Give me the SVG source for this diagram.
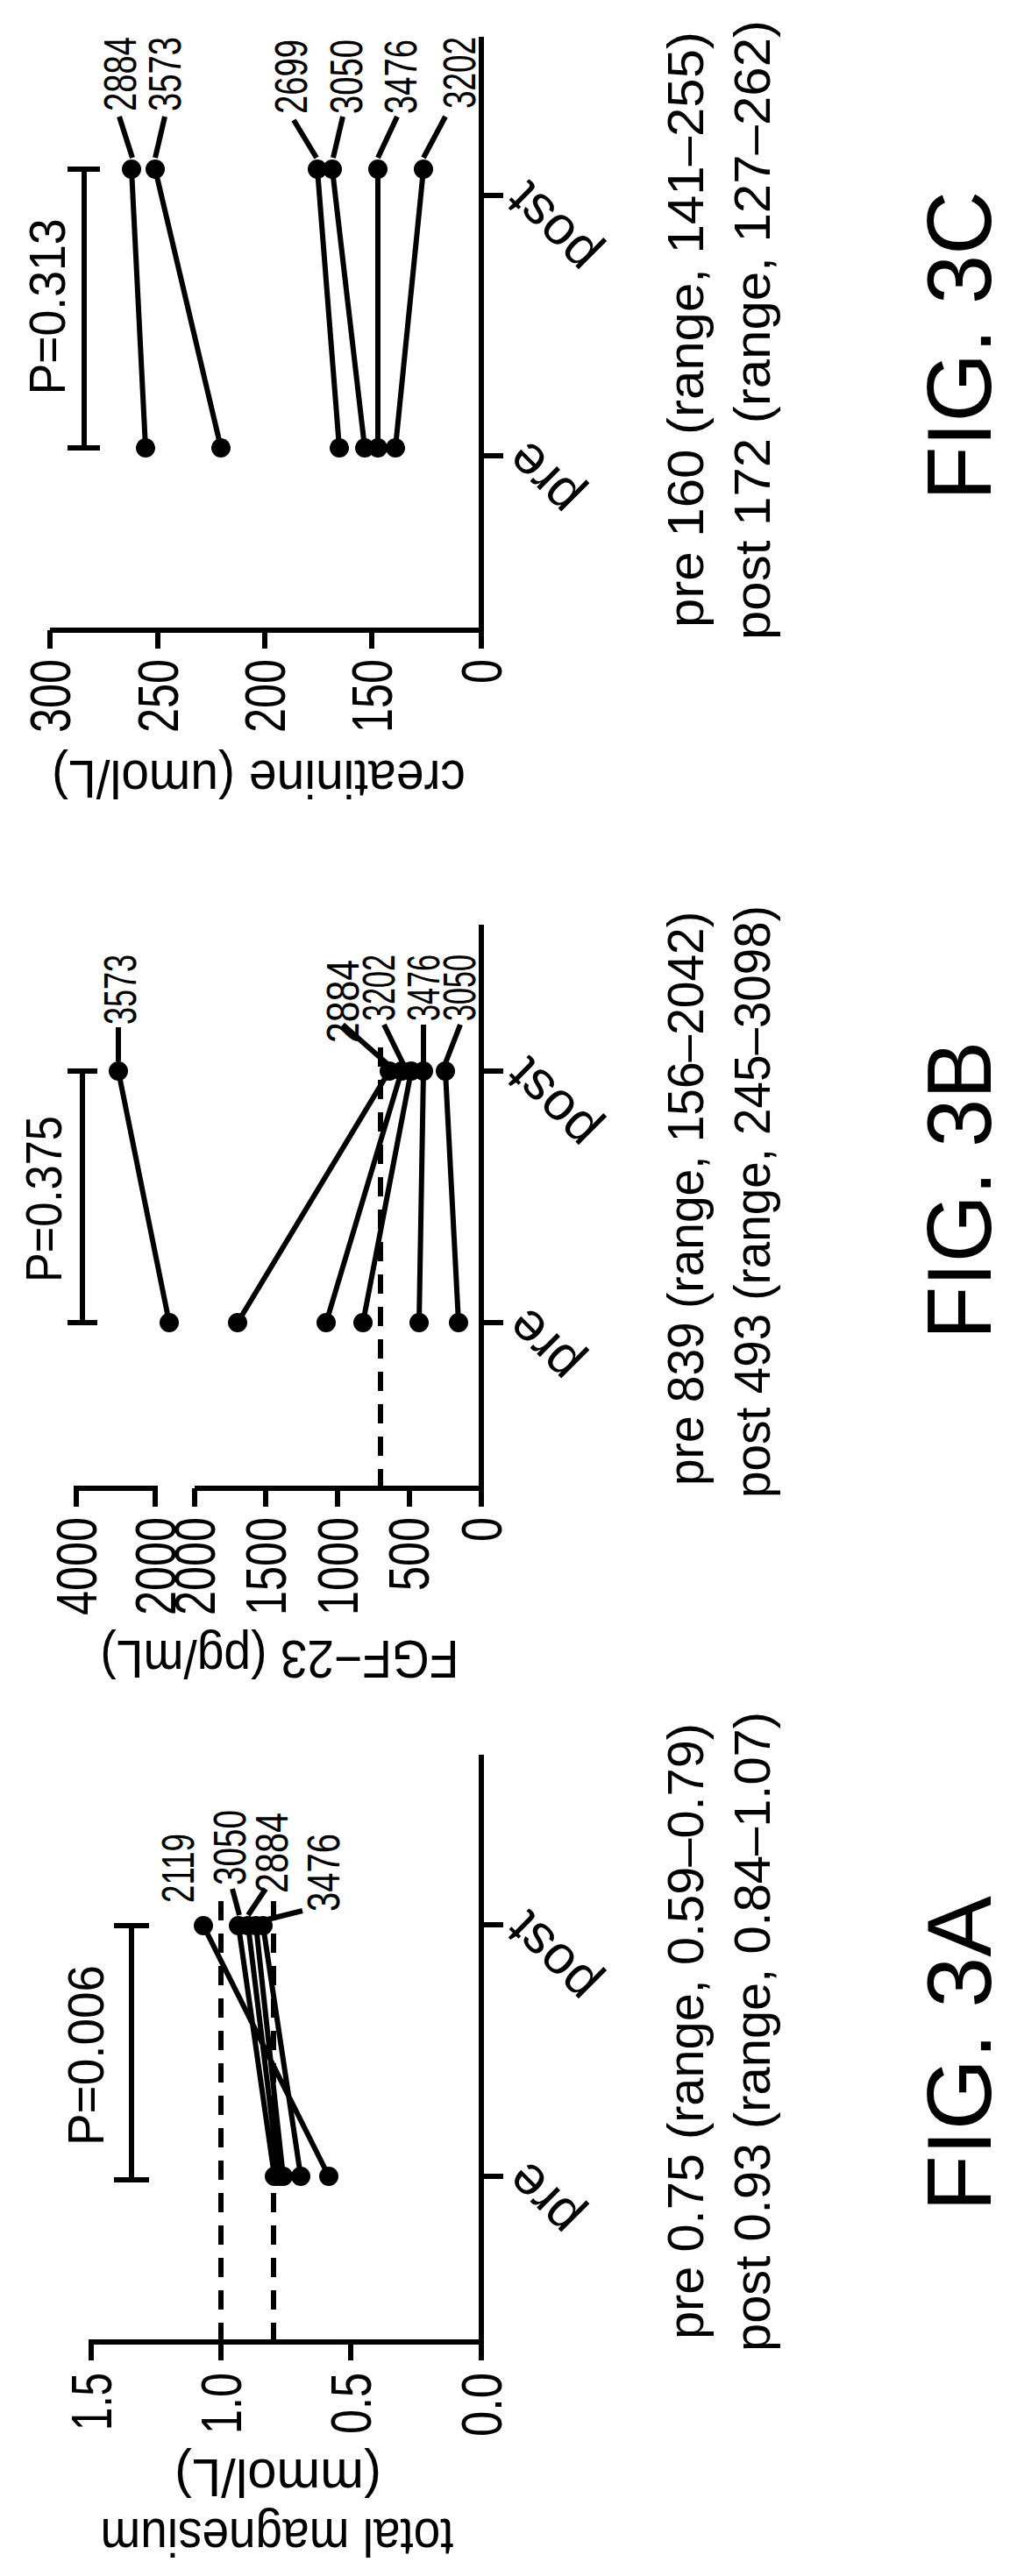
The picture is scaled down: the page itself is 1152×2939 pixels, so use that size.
<svg xmlns="http://www.w3.org/2000/svg" width="1152" height="2939" viewBox="0 0 1152 2939" xml:space="preserve">
<style>
.l{stroke:#000;stroke-width:6;fill:none;stroke-linecap:butt}
.d{stroke:#000;stroke-width:6;fill:none;stroke-dasharray:22 15}
text{font-family:"Liberation Sans",Arial,sans-serif;fill:#000}
.tk{font-size:64px;text-anchor:end}
.id{font-size:52px}
.pv{font-size:57px;text-anchor:middle}
.xl{font-size:62px;text-anchor:end}
.sm{font-size:58px}
.fig{font-size:104px}
.ti{font-size:62px;text-anchor:middle}
</style>
<rect width="1152" height="2939" fill="#fff"/>

<!-- FIG 3C -->
<g id="fig3c">
  <path class="l" d="M549,42V719H57M57,719v21M180,719v21M302,719v21M424,719v21M549,719v21M549,223h25M549,520h25"/>
  <text class="tk" textLength="84" lengthAdjust="spacingAndGlyphs" transform="translate(80,752) rotate(-90)">300</text>
  <text class="tk" textLength="84" lengthAdjust="spacingAndGlyphs" transform="translate(203,752) rotate(-90)">250</text>
  <text class="tk" textLength="84" lengthAdjust="spacingAndGlyphs" transform="translate(325,752) rotate(-90)">200</text>
  <text class="tk" textLength="84" lengthAdjust="spacingAndGlyphs" transform="translate(447,752) rotate(-90)">150</text>
  <text class="tk" textLength="28" lengthAdjust="spacingAndGlyphs" transform="translate(572,752) rotate(-90)">0</text>
  <text class="ti" textLength="472" lengthAdjust="spacingAndGlyphs" transform="translate(295,868) rotate(180)">creatinine  (umol/L)</text>
  <text class="xl" transform="translate(603,500) rotate(-135)">pre</text>
  <text class="xl" transform="translate(603,204) rotate(-135)">post</text>
  <path class="l" d="M96,193V511M77,193h37M77,511h37"/>
  <text class="pv" textLength="201" lengthAdjust="spacingAndGlyphs" transform="translate(74,350) rotate(-90)">P=0.313</text>
  <g class="l">
    <path d="M166,511L150,193M252,511L177,193M387,511L362,193M416,511L379,193M431,511L431,193M451,511L483,193"/>
    <path d="M151,180L136,133M177,180L188,133M361,180L335,137M380,180L391,133M431,180L453,133M483,180L508,133"/>
  </g>
  <g fill="#000">
    <circle cx="166" cy="511" r="11"/><circle cx="252" cy="511" r="11"/><circle cx="387" cy="511" r="11"/><circle cx="416" cy="511" r="11"/><circle cx="431" cy="511" r="11"/><circle cx="451" cy="511" r="11"/>
    <circle cx="150" cy="193" r="11"/><circle cx="177" cy="193" r="11"/><circle cx="362" cy="193" r="11"/><circle cx="379" cy="193" r="11"/><circle cx="431" cy="193" r="11"/><circle cx="483" cy="193" r="11"/>
  </g>
  <text class="id" textLength="85" lengthAdjust="spacingAndGlyphs" transform="translate(155,127) rotate(-90)">2884</text>
  <text class="id" textLength="85" lengthAdjust="spacingAndGlyphs" transform="translate(206,127) rotate(-90)">3573</text>
  <text class="id" textLength="85" lengthAdjust="spacingAndGlyphs" transform="translate(350,130) rotate(-90)">2699</text>
  <text class="id" textLength="85" lengthAdjust="spacingAndGlyphs" transform="translate(413,130) rotate(-90)">3050</text>
  <text class="id" textLength="85" lengthAdjust="spacingAndGlyphs" transform="translate(475,130) rotate(-90)">3476</text>
  <text class="id" textLength="82" lengthAdjust="spacingAndGlyphs" transform="translate(542,124) rotate(-90)">3202</text>
  <text class="sm" textLength="680" lengthAdjust="spacingAndGlyphs" transform="translate(802,716) rotate(-90)">pre  160  (range,  141–255)</text>
  <text class="sm" textLength="707" lengthAdjust="spacingAndGlyphs" transform="translate(878,730) rotate(-90)">post  172  (range,  127–262)</text>
  <text class="fig" textLength="353" lengthAdjust="spacingAndGlyphs" transform="translate(1130,571) rotate(-90)">FIG. 3C</text>
</g>

<!-- FIG 3B -->
<g id="fig3b">
  <path class="l" d="M549,1055V1698H222M222,1698v21M303,1698v21M385,1698v21M467,1698v21M549,1698v21M177,1719V1698H87v21M549,1222h25M549,1509h25"/>
  <text class="tk" textLength="112" lengthAdjust="spacingAndGlyphs" transform="translate(110,1731) rotate(-90)">4000</text>
  <text class="tk" textLength="112" lengthAdjust="spacingAndGlyphs" transform="translate(200,1731) rotate(-90)">2000</text>
  <text class="tk" textLength="112" lengthAdjust="spacingAndGlyphs" transform="translate(245,1731) rotate(-90)">2000</text>
  <text class="tk" textLength="112" lengthAdjust="spacingAndGlyphs" transform="translate(326,1731) rotate(-90)">1500</text>
  <text class="tk" textLength="112" lengthAdjust="spacingAndGlyphs" transform="translate(408,1731) rotate(-90)">1000</text>
  <text class="tk" textLength="84" lengthAdjust="spacingAndGlyphs" transform="translate(489,1731) rotate(-90)">500</text>
  <text class="tk" textLength="28" lengthAdjust="spacingAndGlyphs" transform="translate(572,1731) rotate(-90)">0</text>
  <text class="ti" textLength="409" lengthAdjust="spacingAndGlyphs" transform="translate(319,1872) rotate(180)">FGF−23  (pg/mL)</text>
  <path class="d" d="M434,1698V1181"/>
  <text class="xl" transform="translate(603,1489) rotate(-135)">pre</text>
  <text class="xl" transform="translate(603,1203) rotate(-135)">post</text>
  <path class="l" d="M94,1222V1509M77,1222h34M77,1509h34"/>
  <text class="pv" textLength="190" lengthAdjust="spacingAndGlyphs" transform="translate(70,1368) rotate(-90)">P=0.375</text>
  <g class="l">
    <path d="M193,1509L135,1222M271,1509L444,1222M372,1509L458,1222M414,1509L469,1222M478,1509L483,1222M523,1509L508,1222"/>
    <path d="M135,1211L135,1172M442,1214L391,1169M460,1214L438,1169M483,1214L483,1169M508,1213L525,1169"/>
  </g>
  <g fill="#000">
    <circle cx="193" cy="1509" r="11"/><circle cx="271" cy="1509" r="11"/><circle cx="372" cy="1509" r="11"/><circle cx="414" cy="1509" r="11"/><circle cx="478" cy="1509" r="11"/><circle cx="523" cy="1509" r="11"/>
    <circle cx="135" cy="1222" r="11"/><circle cx="444" cy="1222" r="11"/><circle cx="458" cy="1222" r="11"/><circle cx="469" cy="1222" r="11"/><circle cx="483" cy="1222" r="11"/><circle cx="508" cy="1222" r="11"/>
  </g>
  <text class="id" textLength="80" lengthAdjust="spacingAndGlyphs" transform="translate(155,1169) rotate(-90)">3573</text>
  <text class="id" textLength="95" lengthAdjust="spacingAndGlyphs" transform="translate(409,1190) rotate(-90)">2884</text>
  <text class="id" textLength="76" lengthAdjust="spacingAndGlyphs" transform="translate(450,1165) rotate(-90)">3202</text>
  <text class="id" textLength="76" lengthAdjust="spacingAndGlyphs" transform="translate(501,1165) rotate(-90)">3476</text>
  <text class="id" textLength="76" lengthAdjust="spacingAndGlyphs" transform="translate(542,1165) rotate(-90)">3050</text>
  <text class="sm" textLength="655" lengthAdjust="spacingAndGlyphs" transform="translate(802,1695) rotate(-90)">pre  839  (range,  156–2042)</text>
  <text class="sm" textLength="676" lengthAdjust="spacingAndGlyphs" transform="translate(878,1709) rotate(-90)">post  493  (range,  245–3098)</text>
  <text class="fig" textLength="340" lengthAdjust="spacingAndGlyphs" transform="translate(1130,1528) rotate(-90)">FIG. 3B</text>
</g>

<!-- FIG 3A -->
<g id="fig3a">
  <path class="l" d="M549,2002V2672H104v21M252,2672v21M400,2672v21M549,2672v21M549,2196h25M549,2483h25"/>
  <text class="tk" textLength="66" lengthAdjust="spacingAndGlyphs" transform="translate(127,2707) rotate(-90)">1.5</text>
  <text class="tk" textLength="70" lengthAdjust="spacingAndGlyphs" transform="translate(275,2707) rotate(-90)">1.0</text>
  <text class="tk" textLength="70" lengthAdjust="spacingAndGlyphs" transform="translate(423,2707) rotate(-90)">0.5</text>
  <text class="tk" textLength="73" lengthAdjust="spacingAndGlyphs" transform="translate(572,2707) rotate(-90)">0.0</text>
  <text class="ti" textLength="236" lengthAdjust="spacingAndGlyphs" transform="translate(317,2806) rotate(180)">(mmol/L)</text>
  <text class="ti" textLength="403" lengthAdjust="spacingAndGlyphs" transform="translate(316,2874) rotate(180)">total  magnesium</text>
  <path class="d" d="M252,2672V2155M312,2672V2155"/>
  <text class="xl" transform="translate(603,2463) rotate(-135)">pre</text>
  <text class="xl" transform="translate(603,2177) rotate(-135)">post</text>
  <path class="l" d="M150,2197V2487M130,2197h40M130,2487h40"/>
  <text class="pv" textLength="206" lengthAdjust="spacingAndGlyphs" transform="translate(118,2345) rotate(-90)">P=0.006</text>
  <g class="l">
    <path d="M375,2483L232,2197M313,2483L272,2197M318,2483L283,2197M323,2483L292,2197M343,2483L300,2197"/>
    <path d="M273,2185L265,2155M283,2185L303,2155M305,2190L345,2180"/>
  </g>
  <g fill="#000">
    <circle cx="313" cy="2483" r="11"/><circle cx="318" cy="2483" r="11"/><circle cx="323" cy="2483" r="11"/><circle cx="343" cy="2483" r="11"/><circle cx="375" cy="2483" r="11"/>
    <circle cx="232" cy="2197" r="11"/><circle cx="272" cy="2197" r="11"/><circle cx="283" cy="2197" r="11"/><circle cx="292" cy="2197" r="11"/><circle cx="300" cy="2197" r="11"/>
  </g>
  <text class="id" textLength="79" lengthAdjust="spacingAndGlyphs" transform="translate(221,2171) rotate(-90)">2119</text>
  <text class="id" textLength="86" lengthAdjust="spacingAndGlyphs" transform="translate(280,2151) rotate(-90)">3050</text>
  <text class="id" textLength="92" lengthAdjust="spacingAndGlyphs" transform="translate(328,2160) rotate(-90)">2884</text>
  <text class="id" textLength="89" lengthAdjust="spacingAndGlyphs" transform="translate(387,2181) rotate(-90)">3476</text>
  <text class="sm" textLength="703" lengthAdjust="spacingAndGlyphs" transform="translate(802,2669) rotate(-90)">pre  0.75  (range,  0.59–0.79)</text>
  <text class="sm" textLength="730" lengthAdjust="spacingAndGlyphs" transform="translate(878,2683) rotate(-90)">post  0.93  (range,  0.84–1.07)</text>
  <text class="fig" textLength="360" lengthAdjust="spacingAndGlyphs" transform="translate(1130,2523) rotate(-90)">FIG. 3A</text>
</g>
</svg>
